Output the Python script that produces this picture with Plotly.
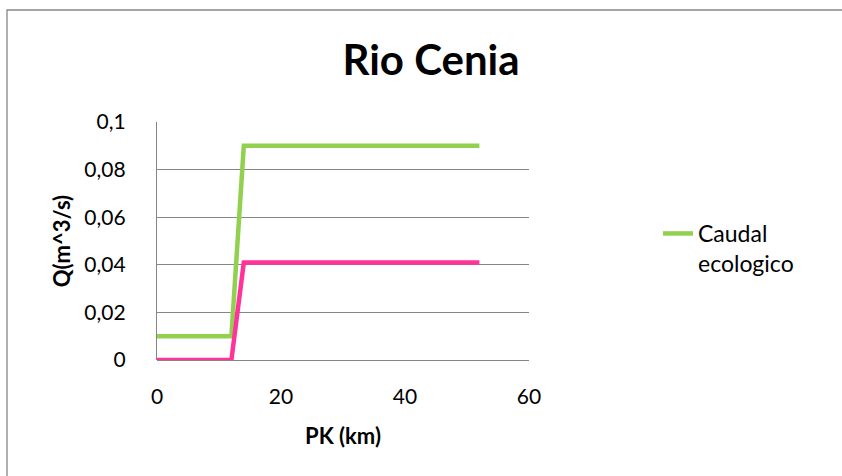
import plotly.graph_objects as go

# River profile: distance along the river (km) and flow (m^3/s)
pk_km = [0, 12, 14, 52]
caudal_ecologico = [0.01, 0.01, 0.09, 0.09]
caudal_minimo = [0, 0, 0.041, 0.041]

x_ticks = [0, 20, 40, 60]
y_ticks = [0, 0.02, 0.04, 0.06, 0.08, 0.1]
y_tick_labels = ["0", "0,02", "0,04", "0,06", "0,08", "0,1"]

FONT = "Lato, Calibri, Carlito, sans-serif"
GRID = "#868686"

fig = go.Figure()
fig.add_trace(go.Scatter(
    x=pk_km, y=caudal_ecologico, mode="lines", name="Caudal<br>ecologico",
    line=dict(color="#92D050", width=4.5), showlegend=True,
))
fig.add_trace(go.Scatter(
    x=pk_km, y=caudal_minimo, mode="lines", name="Caudal",
    line=dict(color="#FF3399", width=4.5), showlegend=False,
))

W, H = 842, 476
L, R, T, B = 157, 313, 122, 116
pw, ph = W - L - R, H - T - B

# chart frame
fig.add_shape(
    type="rect", xref="paper", yref="paper",
    x0=(7 - L) / pw, x1=(W + 10 - L) / pw,
    y0=-(B + 10) / ph, y1=(H - B - 10) / ph,
    line=dict(color="#868686", width=1.3), fillcolor="rgba(0,0,0,0)",
    layer="below",
)

fig.update_layout(
    width=W, height=H,
    margin=dict(l=L, r=R, t=T, b=B),
    paper_bgcolor="white", plot_bgcolor="white",
    separators=", ",
    font=dict(family=FONT, color="black", size=21),
    title=dict(text="<b>Rio Cenia</b>", x=431 / W, xanchor="center",
               y=1 - 60 / H, yanchor="middle",
               font=dict(family=FONT, size=42, color="black")),
    legend=dict(x=(658 - L) / pw, xanchor="left", y=(360 - 212) / ph, yanchor="top",
                valign="top", bgcolor="rgba(0,0,0,0)",
                font=dict(family=FONT, size=23, color="black")),
    xaxis=dict(range=[0, 60], tickvals=x_ticks, showgrid=False, zeroline=False,
               showline=False, ticks="", ticklabelstandoff=22,
               tickfont=dict(size=21),
               title=dict(text="<b>PK (km)</b>", standoff=21,
                          font=dict(family=FONT, size=22))),
    yaxis=dict(range=[0, 0.1], tickvals=y_ticks, ticktext=y_tick_labels,
               showgrid=True, gridcolor=GRID, gridwidth=1.3,
               zeroline=True, zerolinecolor=GRID, zerolinewidth=1.3,
               showline=True, linecolor=GRID, linewidth=1.3,
               ticks="", ticklabelstandoff=26,
               tickfont=dict(size=21),
               title=dict(text="<b>Q(m^3/s)</b>", standoff=7,
                          font=dict(family=FONT, size=22))),
)

fig.write_html("out.html")
